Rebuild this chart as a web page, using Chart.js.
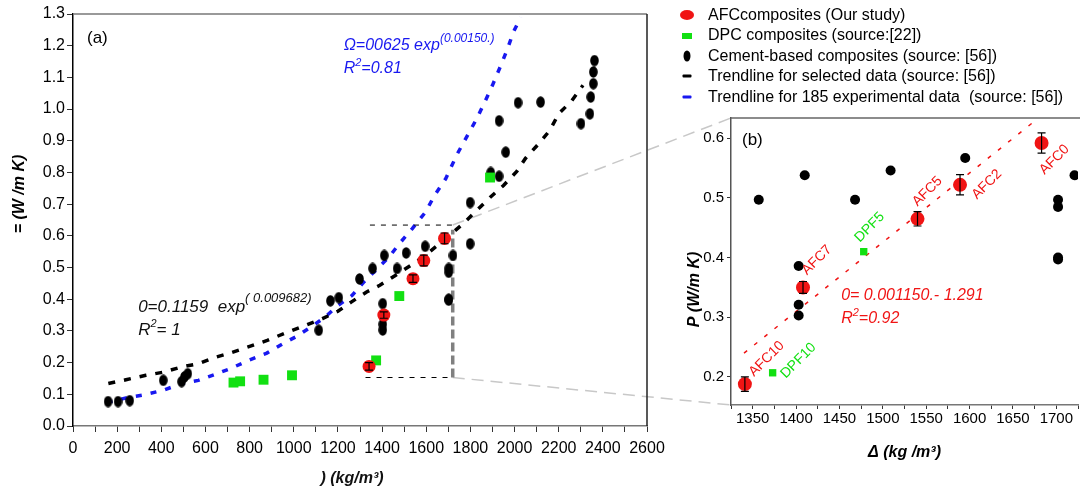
<!DOCTYPE html>
<html><head><meta charset="utf-8">
<script src="https://cdn.jsdelivr.net/npm/chart.js@4.4.0/dist/chart.umd.min.js"></script>
<style>
html,body{margin:0;padding:0;width:1080px;height:496px;overflow:hidden;background:#fff;font-family:'Liberation Sans',Arial,sans-serif;}
#main{position:absolute;left:0;top:0;}
#inset{position:absolute;left:680px;top:100px;}
#legend{position:absolute;left:676px;top:5px;font-size:16px;color:#000;}
.row{position:relative;height:20.4px;line-height:20.4px;padding-left:32px;white-space:nowrap;}
.mk{position:absolute;top:50%;left:11px;transform:translate(-50%,-50%);display:block;}
</style></head><body>
<canvas id="main" width="1080" height="496"></canvas>
<div id="legend"></div>
<canvas id="inset" width="405" height="396"></canvas>
<script>
// ---------------- DATA ----------------
const afcNames = ['AFC10','AFC7','AFC5','AFC2','AFC0'];
const afcX = [1341,1408,1540,1589,1683];
const afcY = [0.188,0.350,0.465,0.522,0.592];
const afcErr = [0.012,0.010,0.012,0.017,0.017];

const dpcNames = ['','','','','DPF10','DPF5',''];
const dpcX = [727,757,863,992,1373,1478,1889];
const dpcY = [0.137,0.141,0.146,0.160,0.207,0.410,0.784];

const cementX = [159,204,257,409,492,505,520,1113,1166,1204,1298,1357,1403,1403,1403,1410,1468,1509,1595,1702,1702,1702,1702,1721,1799,1799,1892,1930,1930,1960,2016,2118,2301,2341,2345,2357,2357,2362];
const cementY = [0.077,0.077,0.080,0.144,0.140,0.155,0.165,0.302,0.395,0.405,0.464,0.497,0.386,0.321,0.303,0.538,0.497,0.546,0.567,0.497,0.485,0.400,0.397,0.538,0.575,0.705,0.800,0.788,0.963,0.864,1.020,1.022,0.954,0.985,1.038,1.080,1.117,1.153];

const selTrendX = [160,240,330,410,490,570,640,710,800,880,960,1040,1130,1200,1260,1330,1390,1460,1530,1590,1660,1770,1890,1950,2010,2050,2110,2160,2200,2260,2310];
const selTrendY = [0.134,0.146,0.160,0.170,0.186,0.197,0.216,0.230,0.251,0.270,0.293,0.314,0.339,0.362,0.391,0.423,0.444,0.475,0.507,0.535,0.575,0.640,0.722,0.759,0.803,0.845,0.891,0.933,0.985,1.027,1.075];

const expTrendX = [152,250,326,409,492,568,644,719,795,878,951,1014,1083,1143,1196,1264,1317,1378,1431,1484,1537,1597,1638,1688,1741,1787,1829,1865,1900,1935,1968,1995,2028];
const expTrendY = [0.074,0.090,0.099,0.113,0.134,0.144,0.163,0.183,0.207,0.230,0.260,0.283,0.315,0.344,0.378,0.412,0.454,0.496,0.533,0.580,0.623,0.675,0.728,0.780,0.859,0.917,0.970,1.022,1.075,1.133,1.190,1.243,1.290];

const afcFitX = [1340,1676];
const afcFitY = [0.240,0.630];

const boxX = [1325,1720];
const boxY = [0.153,0.634];

const mainXTicks = [0,100,200,300,400,500,600,700,800,900,1000,1100,1200,1300,1400,1500,1600,1700,1800,1900,2000,2100,2200,2300,2400,2500,2600];
const mainXLabels = [0,200,400,600,800,1000,1200,1400,1600,1800,2000,2200,2400,2600];
const mainYTicks = [0,0.1,0.2,0.3,0.4,0.5,0.6,0.7,0.8,0.9,1.0,1.1,1.2,1.3];
const insetXTicks = [1325,1350,1375,1400,1425,1450,1475,1500,1525,1550,1575,1600,1625,1650,1675,1700,1725];
const insetXLabels = [1350,1400,1450,1500,1550,1600,1650,1700];
const insetYTicks = [0.2,0.3,0.4,0.5,0.6];

const seriesLabels = ['AFCcomposites (Our study)','DPC composites (source:[22])','Cement-based composites (source: [56])','Trendline for selected data (source: [56])','Trendline for 185 experimental data  (source: [56])'];

// ---------------- STYLE ----------------
const FONT = "'Liberation Sans', Arial, sans-serif";
const RED = '#f01414', GREEN = '#12e012', BLUE = '#1818f0', BLACK = '#000';
const afcLabelOffsets = [[9,-7],[4,-12],[0,-12],[17,15],[3,32]];
const dpcLabelOffsets = [null,null,null,null,[13,6],[-4,-9],null];
const INSET_LEFT = 680, INSET_TOP = 100;

Chart.defaults.font.family = FONT;
Chart.defaults.color = '#000';

const pts = (xs, ys) => xs.map((v,i)=>({x:v, y:ys[i]}));
function ellipseImg(w,h,color){
  const c=document.createElement('canvas'); c.width=w; c.height=h;
  const g=c.getContext('2d'); g.fillStyle=color; g.beginPath();
  g.ellipse(w/2,h/2,w/2-0.2,h/2-0.2,0,0,Math.PI*2); g.fill(); return c;
}
const cementMark = ellipseImg(9,12,'#000');

function rich(ctx, x, y, parts, color, style){
  let cx=x;
  ctx.fillStyle=color; ctx.textAlign='left'; ctx.textBaseline='alphabetic';
  for(const p of parts){
    ctx.font=`${style} ${p.size}px ${FONT}`;
    ctx.fillText(p.t, cx, y-(p.rise||0));
    cx += ctx.measureText(p.t).width;
  }
}
function rotText(ctx, text, x, y, font, color){
  ctx.save(); ctx.translate(x,y); ctx.rotate(-Math.PI/2);
  ctx.font=font; ctx.fillStyle=color; ctx.textAlign='center'; ctx.textBaseline='middle';
  ctx.fillText(text,0,0); ctx.restore();
}

const errBars = {
  id:'errBars',
  afterDatasetsDraw(chart, args, opts){
    const meta = chart.getDatasetMeta(0);
    const {ctx, scales:{y}} = chart;
    ctx.save(); ctx.strokeStyle='#000'; ctx.lineWidth=1.2;
    meta.data.forEach((el,i)=>{
      const px=el.x, y1=y.getPixelForValue(afcY[i]+afcErr[i]), y2=y.getPixelForValue(afcY[i]-afcErr[i]);
      const cw=opts.cap;
      ctx.beginPath(); ctx.moveTo(px,y1); ctx.lineTo(px,y2);
      ctx.moveTo(px-cw,y1); ctx.lineTo(px+cw,y1);
      ctx.moveTo(px-cw,y2); ctx.lineTo(px+cw,y2); ctx.stroke();
    });
    ctx.restore();
  }
};

const axisCommon = (tickLen) => ({
  grid:{display:true, drawOnChartArea:false, drawTicks:true, tickLength:tickLen, tickColor:'#333', tickWidth:1},
});

// ---------------- INSET (b) ----------------
const insetDecor = {
  id:'insetDecor',
  afterDraw(chart){
    const {ctx, chartArea:a, scales:{x,y}} = chart;
    ctx.save();
    ctx.strokeStyle='#666'; ctx.lineWidth=1.5;
    ctx.beginPath(); ctx.moveTo(a.left,a.top); ctx.lineTo(a.right+10,a.top); ctx.stroke();
    ctx.font=`14px ${FONT}`; ctx.textAlign='left'; ctx.textBaseline='alphabetic';
    const lab=(txt,px,py,off,color)=>{
      ctx.save(); ctx.translate(px+off[0],py+off[1]); ctx.rotate(-Math.PI/4);
      ctx.fillStyle=color; ctx.fillText(txt,0,0); ctx.restore();
    };
    afcNames.forEach((n,i)=>lab(n,x.getPixelForValue(afcX[i]),y.getPixelForValue(afcY[i]),afcLabelOffsets[i],RED));
    dpcNames.forEach((n,i)=>{ if(n) lab(n,x.getPixelForValue(dpcX[i]),y.getPixelForValue(dpcY[i]),dpcLabelOffsets[i],GREEN); });
    ctx.font=`17px ${FONT}`; ctx.fillStyle='#000';
    ctx.fillText('(b)', a.left+11, a.top+27);
    const ex=x.getPixelForValue(1452);
    rich(ctx, ex, y.getPixelForValue(0.329), [{t:'0= 0.001150.- 1.291',size:16}], RED, 'italic');
    rich(ctx, ex, y.getPixelForValue(0.291), [{t:'R',size:16},{t:'2',size:11,rise:7},{t:'=0.92',size:16}], RED, 'italic');
    ctx.textAlign='center'; ctx.textBaseline='middle';
    ctx.font=`italic bold 16px ${FONT}`; ctx.fillStyle='#000';
    ctx.fillText('Δ (kg /m³)', (a.left+a.right)/2 - 0, a.bottom+48);
    rotText(ctx, 'P (W/m K)', a.left-36, (a.top+a.bottom)/2+28, `italic bold 16px ${FONT}`, '#000');
    ctx.restore();
  }
};

const insetChart = new Chart(document.getElementById('inset'), {
  type:'scatter',
  data:{datasets:[
    {label:seriesLabels[0], data:pts(afcX,afcY), pointStyle:'circle', pointRadius:7, backgroundColor:RED, borderWidth:0},
    {label:seriesLabels[1], data:pts(dpcX,dpcY), pointStyle:'rect', pointRadius:5.2, backgroundColor:GREEN, borderWidth:0},
    {label:seriesLabels[2], data:pts(cementX,cementY), pointStyle:'circle', pointRadius:5, backgroundColor:'#000', borderWidth:0},
    {label:'fit', data:pts(afcFitX,afcFitY), showLine:true, pointRadius:0, borderColor:RED, borderWidth:1.5, borderDash:[4,9]}
  ]},
  options:{
    responsive:false, animation:false, events:[],
    layout:{padding:{left:0,top:18,right:4,bottom:0}},
    plugins:{legend:{display:false}, tooltip:{enabled:false}, errBars:{cap:4}},
    scales:{
      x:{type:'linear', min:boxX[0], max:1725,
        afterFit:s=>{s.height=91;},
        afterBuildTicks:a=>{a.ticks=insetXTicks.map(v=>({value:v}));},
        ticks:{callback:v=>insetXLabels.includes(v)?String(v):'', font:{size:15}, padding:1, maxRotation:0, autoSkip:false, color:'#000'},
        ...axisCommon(4),
        border:{display:true, color:'#777', width:1.5}},
      y:{min:boxY[0], max:boxY[1],
        afterFit:s=>{s.width=51;},
        afterBuildTicks:a=>{a.ticks=insetYTicks.map(v=>({value:v}));},
        ticks:{callback:v=>v.toFixed(1), font:{size:15}, padding:3, autoSkip:false, color:'#000'},
        ...axisCommon(4),
        border:{display:true, color:'#555', width:1.5}}
    }
  },
  plugins:[errBars, insetDecor]
});

// ---------------- MAIN (a) ----------------
const mainDecor = {
  id:'mainDecor',
  beforeDatasetsDraw(chart){
    const {ctx, scales:{x,y}} = chart;
    const ia = insetChart.chartArea;
    ctx.save(); ctx.strokeStyle='#c8c8c8'; ctx.lineWidth=1.5; ctx.setLineDash([12,7]);
    const bx=x.getPixelForValue(boxX[1]);
    ctx.beginPath(); ctx.moveTo(bx,y.getPixelForValue(boxY[1])); ctx.lineTo(INSET_LEFT+ia.left, INSET_TOP+ia.top); ctx.stroke();
    ctx.beginPath(); ctx.moveTo(bx,y.getPixelForValue(boxY[0])); ctx.lineTo(INSET_LEFT+ia.left, INSET_TOP+ia.bottom); ctx.stroke();
    ctx.restore();
  },
  afterDraw(chart){
    const {ctx, chartArea:a, scales:{x,y}} = chart;
    ctx.save();
    ctx.lineWidth=1.5; ctx.strokeStyle='#777';
    ctx.beginPath(); ctx.moveTo(a.left,a.top); ctx.lineTo(a.right,a.top); ctx.stroke();
    ctx.strokeStyle='#222';
    ctx.beginPath(); ctx.moveTo(a.right,a.top); ctx.lineTo(a.right,a.bottom); ctx.stroke();
    ctx.font=`17px ${FONT}`; ctx.fillStyle='#000'; ctx.textAlign='left'; ctx.textBaseline='alphabetic';
    ctx.fillText('(a)', a.left+14, a.top+29);
    const bxp=x.getPixelForValue(1226);
    rich(ctx, bxp, y.getPixelForValue(1.187), [{t:'Ω=00625 exp',size:16},{t:'(0.00150.)',size:12,rise:8}], BLUE, 'italic');
    rich(ctx, bxp, y.getPixelForValue(1.113), [{t:'R',size:16},{t:'2',size:11,rise:7},{t:'=0.81',size:16}], BLUE, 'italic');
    const kxp=x.getPixelForValue(295);
    rich(ctx, kxp, y.getPixelForValue(0.360), [{t:'0=0.1159  exp',size:17},{t:'( 0.009682)',size:13,rise:10}], '#111', 'italic');
    rich(ctx, kxp, y.getPixelForValue(0.286), [{t:'R',size:17},{t:'2',size:11,rise:8},{t:'= 1',size:17}], '#111', 'italic');
    ctx.textAlign='center'; ctx.textBaseline='middle';
    ctx.font=`italic bold 16px ${FONT}`;
    ctx.fillText(') (kg/m³)', (a.left+a.right)/2-8, a.bottom+53);
    rotText(ctx, '= (W /m K)', a.left-53, (a.top+a.bottom)/2-26, `italic bold 16px ${FONT}`, '#000');
    ctx.restore();
  }
};

const mainChart = new Chart(document.getElementById('main'), {
  type:'scatter',
  data:{datasets:[
    {label:seriesLabels[0], data:pts(afcX,afcY), pointStyle:'circle', pointRadius:6.5, backgroundColor:RED, borderWidth:0},
    {label:seriesLabels[1], data:pts(dpcX,dpcY), pointStyle:'rect', pointRadius:7, backgroundColor:GREEN, borderWidth:0},
    {label:seriesLabels[2], data:pts(cementX,cementY), pointStyle:cementMark, pointRadius:6},
    {label:'zoomRight', data:[{x:boxX[1],y:boxY[0]},{x:boxX[1],y:boxY[1]-0.015}], showLine:true, pointRadius:0, borderColor:'#808080', borderWidth:3.5, borderDash:[9,4]},
    {label:'zoomTop', data:[{x:boxX[0]+20,y:boxY[1]},{x:boxX[1],y:boxY[1]}], showLine:true, pointRadius:0, borderColor:'#000', borderWidth:1, borderDash:[5,6]},
    {label:'zoomBottom', data:[{x:boxX[0],y:boxY[0]},{x:boxX[1],y:boxY[0]}], showLine:true, pointRadius:0, borderColor:'#000', borderWidth:1, borderDash:[5,6]},
    {label:seriesLabels[3], data:pts(selTrendX,selTrendY), showLine:true, pointRadius:0, borderColor:'#000', borderWidth:3.5, borderDash:[7,9]},
    {label:seriesLabels[4], data:pts(expTrendX,expTrendY), showLine:true, pointRadius:0, borderColor:BLUE, borderWidth:3.5, borderDash:[6,9]}
  ]},
  options:{
    responsive:false, animation:false, events:[],
    layout:{padding:{left:0,top:14,right:433,bottom:0}},
    plugins:{legend:{display:false}, tooltip:{enabled:false}, errBars:{cap:4}},
    scales:{
      x:{type:'linear', min:0, max:2600,
        afterFit:s=>{s.height=70;},
        afterBuildTicks:a=>{a.ticks=mainXTicks.map(v=>({value:v}));},
        ticks:{callback:v=>mainXLabels.includes(v)?String(v):'', font:{size:16}, padding:7, maxRotation:0, autoSkip:false, color:'#000'},
        ...axisCommon(6),
        border:{display:true, color:'#777', width:1.5}},
      y:{min:0, max:1.3,
        afterFit:s=>{s.width=73;},
        afterBuildTicks:a=>{a.ticks=mainYTicks.map(v=>({value:v}));},
        ticks:{callback:v=>v.toFixed(1), font:{size:16}, padding:2, autoSkip:false, color:'#000'},
        ...axisCommon(6),
        border:{display:true, color:'#000', width:1.5}}
    }
  },
  plugins:[errBars, mainDecor]
});

// ---------------- LEGEND ----------------
const legendMarks = [
  `<span class="mk" style="width:14px;height:10px;border-radius:50%;background:${RED}"></span>`,
  `<span class="mk" style="width:10px;height:6px;background:${GREEN}"></span>`,
  `<span class="mk" style="width:7px;height:11px;border-radius:50%;background:#000"></span>`,
  `<span class="mk" style="width:9px;height:3px;border-radius:1px;background:#000"></span>`,
  `<span class="mk" style="width:9px;height:3px;border-radius:1px;background:${BLUE}"></span>`
];
document.getElementById('legend').innerHTML = seriesLabels.map((l,i)=>`<div class="row">${legendMarks[i]}${l.replace(/  /g,' &nbsp;')}</div>`).join('');
</script>
</body></html>
